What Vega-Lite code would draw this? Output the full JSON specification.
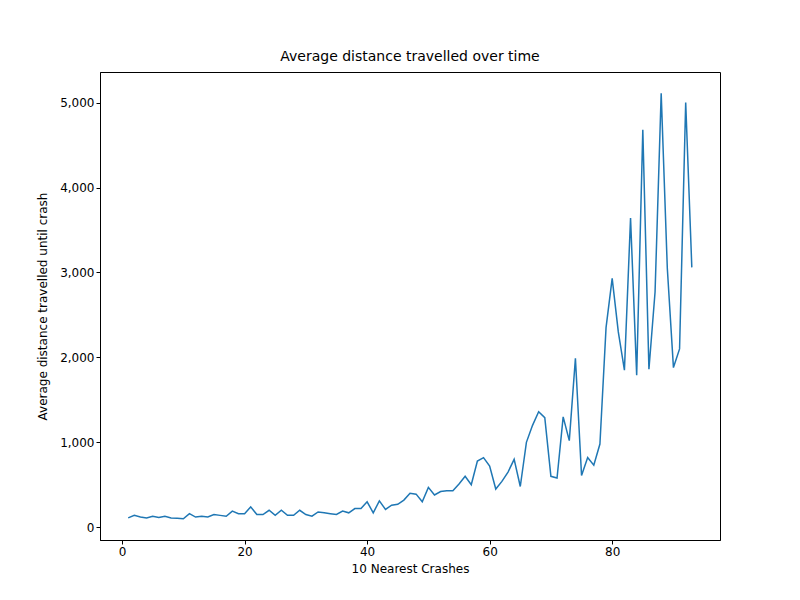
{
  "$schema": "https://vega.github.io/schema/vega-lite/v6.json",
  "width": 620,
  "height": 468,
  "padding": {"left": 100, "top": 72, "right": 80, "bottom": 60},
  "autosize": {"type": "none"},
  "background": "white",
  "title": {"text": "Average distance travelled over time", "font": "DejaVu Sans", "fontSize": 14, "fontWeight": "normal", "color": "black", "offset": 8},
  "config": {
    "view": {"stroke": "black", "strokeWidth": 1},
    "axis": {"labelFont": "DejaVu Sans", "titleFont": "DejaVu Sans", "labelFontSize": 12, "titleFontSize": 12, "titleFontWeight": "normal", "labelColor": "black", "titleColor": "black", "tickColor": "black", "domainColor": "black", "grid": false, "tickSize": 4}
  },
  "data": {"values": [
    {"x":1,"y":110},{"x":2,"y":140},{"x":3,"y":120},{"x":4,"y":110},{"x":5,"y":130},{"x":6,"y":115},{"x":7,"y":130},{"x":8,"y":110},{"x":9,"y":105},{"x":10,"y":100},
    {"x":11,"y":160},{"x":12,"y":120},{"x":13,"y":130},{"x":14,"y":120},{"x":15,"y":150},{"x":16,"y":140},{"x":17,"y":130},{"x":18,"y":190},{"x":19,"y":160},{"x":20,"y":160},
    {"x":21,"y":240},{"x":22,"y":150},{"x":23,"y":150},{"x":24,"y":200},{"x":25,"y":140},{"x":26,"y":200},{"x":27,"y":140},{"x":28,"y":140},{"x":29,"y":200},{"x":30,"y":150},
    {"x":31,"y":130},{"x":32,"y":180},{"x":33,"y":170},{"x":34,"y":160},{"x":35,"y":150},{"x":36,"y":190},{"x":37,"y":170},{"x":38,"y":220},{"x":39,"y":220},{"x":40,"y":300},
    {"x":41,"y":170},{"x":42,"y":310},{"x":43,"y":210},{"x":44,"y":260},{"x":45,"y":270},{"x":46,"y":320},{"x":47,"y":400},{"x":48,"y":390},{"x":49,"y":300},{"x":50,"y":470},
    {"x":51,"y":380},{"x":52,"y":420},{"x":53,"y":430},{"x":54,"y":430},{"x":55,"y":510},{"x":56,"y":600},{"x":57,"y":500},{"x":58,"y":780},{"x":59,"y":820},{"x":60,"y":720},
    {"x":61,"y":450},{"x":62,"y":540},{"x":63,"y":650},{"x":64,"y":800},{"x":65,"y":480},{"x":66,"y":1000},{"x":67,"y":1200},{"x":68,"y":1360},{"x":69,"y":1290},{"x":70,"y":600},
    {"x":71,"y":580},{"x":72,"y":1300},{"x":73,"y":1020},{"x":74,"y":1990},{"x":75,"y":610},{"x":76,"y":820},{"x":77,"y":730},{"x":78,"y":980},{"x":79,"y":2350},{"x":80,"y":2930},
    {"x":81,"y":2300},{"x":82,"y":1850},{"x":83,"y":3640},{"x":84,"y":1790},{"x":85,"y":4680},{"x":86,"y":1860},{"x":87,"y":2770},{"x":88,"y":5110},{"x":89,"y":3050},{"x":90,"y":1880},
    {"x":91,"y":2100},{"x":92,"y":5000},{"x":93,"y":3060}
  ]},
  "mark": {"type": "line", "color": "#1f77b4", "strokeWidth": 1.5, "clip": true},
  "encoding": {
    "x": {"field": "x", "type": "quantitative", "title": "10 Nearest Crashes", "scale": {"domain": [-3.6, 97.6], "nice": false, "zero": false}, "axis": {"values": [0, 20, 40, 60, 80], "titlePadding": 6}},
    "y": {"field": "y", "type": "quantitative", "title": "Average distance travelled until crash", "scale": {"domain": [-150, 5360], "nice": false, "zero": false}, "axis": {"values": [0, 1000, 2000, 3000, 4000, 5000], "titlePadding": 10}}
  }
}
